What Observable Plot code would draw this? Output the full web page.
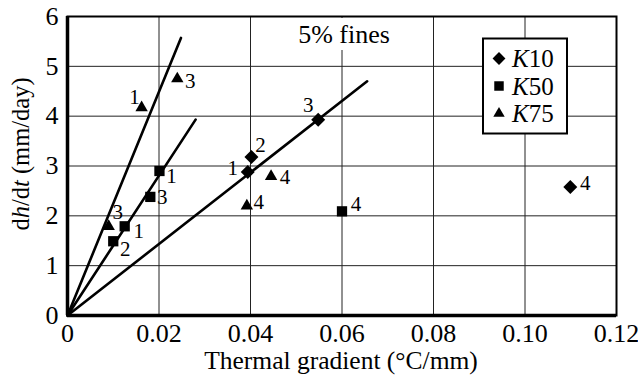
<!DOCTYPE html>
<html><head><meta charset="utf-8">
<script src="https://cdn.jsdelivr.net/npm/d3@7"></script>
<script src="https://cdn.jsdelivr.net/npm/@observablehq/plot@0.6"></script>
<style>
body{margin:0;background:#fff;}
#chart{position:relative;width:638px;height:385px;}
</style></head><body><div id="chart"></div>
<script>
// ---- data ----
const series   = ["K10","K10","K10","K10","K50","K50","K50","K50","K50","K75","K75","K75","K75","K75"];
const gradient = [0.0394,0.0402,0.0548,0.1099,0.0201,0.0181,0.0125,0.0100,0.0600,0.0240,0.0162,0.0090,0.0445,0.0392];
const rate     = [2.88,3.18,3.93,2.58,2.90,2.38,1.79,1.49,2.09,4.75,4.17,1.79,2.79,2.20];
const pointLabel = ["1","2","3","4","1","3","1","2","4","3","1","3","4","4"];

const fitSeries = ["K75","K50","K10"];
const fitEndX   = [0.0248,0.0280,0.0655];
const fitEndY   = [5.57,3.93,4.70];

const xTicks = [0,0.02,0.04,0.06,0.08,0.10,0.12];
const xTickLabels = ["0","0.02","0.04","0.06","0.08","0.10","0.12"];
const yTicks = [0,1,2,3,4,5,6];
const yTickLabels = ["0","1","2","3","4","5","6"];
const legendSeries = ["K10","K50","K75"];
const annotation = "5% fines";
const xTitle = "Thermal gradient (°C/mm)";

// ---- layout (not data) ----
const labelOffset = [[-15,-4],[9,-12],[-10,-14],[15,-4],[12,5],[12,0],[14,5],[12,8],[14,-7],[13,2],[-7,-10],[9,-14],[14,1],[12,-4]];
const symbolOf = {K10:"diamond2", K50:"square", K75:"triangle"};
const rOf = {K10:6.3, K50:5.8, K75:4.6};

const points = series.map((s,i)=>({series:s, x:gradient[i], y:rate[i], label:pointLabel[i]}));
const fitData = fitSeries.flatMap((s,i)=>[{series:s,x:0,y:0},{series:s,x:fitEndX[i],y:fitEndY[i]}]);

const FONT = "Liberation Serif, Times New Roman, serif";

const svg = Plot.plot({
  width:638, height:385,
  marginLeft:67, marginRight:22, marginTop:16, marginBottom:70,
  style:{fontFamily:FONT, fontSize:"25px", color:"black", background:"white"},
  x:{domain:[0,0.12]},
  y:{domain:[0,6]},
  marks:[
    Plot.gridX(xTicks,{stroke:"#222", strokeOpacity:1, strokeWidth:1}),
    Plot.gridY(yTicks,{stroke:"#222", strokeOpacity:1, strokeWidth:1}),
    Plot.axisX({ticks:xTicks, tickFormat:d=>xTickLabels[xTicks.indexOf(d)], tickSize:0, tickPadding:8, label:null, fontSize:26}),
    Plot.axisY({ticks:yTicks, tickFormat:d=>yTickLabels[yTicks.indexOf(d)], tickSize:0, tickPadding:9, label:null, fontSize:26}),
    Plot.frame({stroke:"black", strokeWidth:2}),
    Plot.ruleX([0],{stroke:"black", strokeWidth:3.5}),
    Plot.ruleY([0],{stroke:"black", strokeWidth:3.5}),
    Plot.line(fitData,{x:"x", y:"y", z:"series", stroke:"black", strokeWidth:2.6}),
    ...legendSeries.map(s=>Plot.dot(points.filter(p=>p.series===s),{x:"x", y:"y", symbol:()=>symbolOf[s], r:rOf[s], fill:"black", stroke:"none"})),
    ...points.map((p,i)=>Plot.text([p],{x:"x", y:"y", text:"label", dx:labelOffset[i][0], dy:labelOffset[i][1], fontSize:21, fill:"black"}))
  ],
  symbol:{type:"identity"}
});

const s = d3.select(svg);
// axis titles
s.append("text").attr("x",341).attr("y",369).attr("text-anchor","middle")
  .attr("font-size",25.5).attr("font-family",FONT).attr("fill","black").text(xTitle);
const yt = s.append("text").attr("transform","translate(29,154) rotate(-90)").attr("text-anchor","middle")
  .attr("font-size",24.5).attr("font-family",FONT).attr("fill","black");
yt.append("tspan").text("d");
yt.append("tspan").attr("font-style","italic").text("h");
yt.append("tspan").text("/d");
yt.append("tspan").attr("font-style","italic").text("t");
yt.append("tspan").text(" (mm/day)");

// annotation
s.append("rect").attr("x",290).attr("y",18).attr("width",108).attr("height",32).attr("fill","white");
s.append("text").attr("x",344).attr("y",43).attr("text-anchor","middle")
  .attr("font-size",26).attr("font-family",FONT).attr("fill","black").text(annotation);

// legend
const lg = s.append("g");
lg.append("rect").attr("x",483).attr("y",38.5).attr("width",84).attr("height",95)
  .attr("fill","white").attr("stroke","black").attr("stroke-width",2);
const d3sym = {K10:d3.symbolDiamond2, K50:d3.symbolSquare, K75:d3.symbolTriangle};
legendSeries.forEach((k,i)=>{
  const cy = 58.5 + i*27.5;
  lg.append("path").attr("transform",`translate(499,${cy})`)
    .attr("d", d3.symbol(d3sym[k], Math.PI*rOf[k]*rOf[k]*0.85)()).attr("fill","black");
  const t = lg.append("text").attr("x",512).attr("y",cy+8.5).attr("font-size",25)
    .attr("text-anchor","start").attr("font-family",FONT).attr("fill","black");
  t.append("tspan").attr("font-style","italic").text(k[0]);
  t.append("tspan").text(k.slice(1));
});

document.getElementById("chart").appendChild(svg);
</script></body></html>
